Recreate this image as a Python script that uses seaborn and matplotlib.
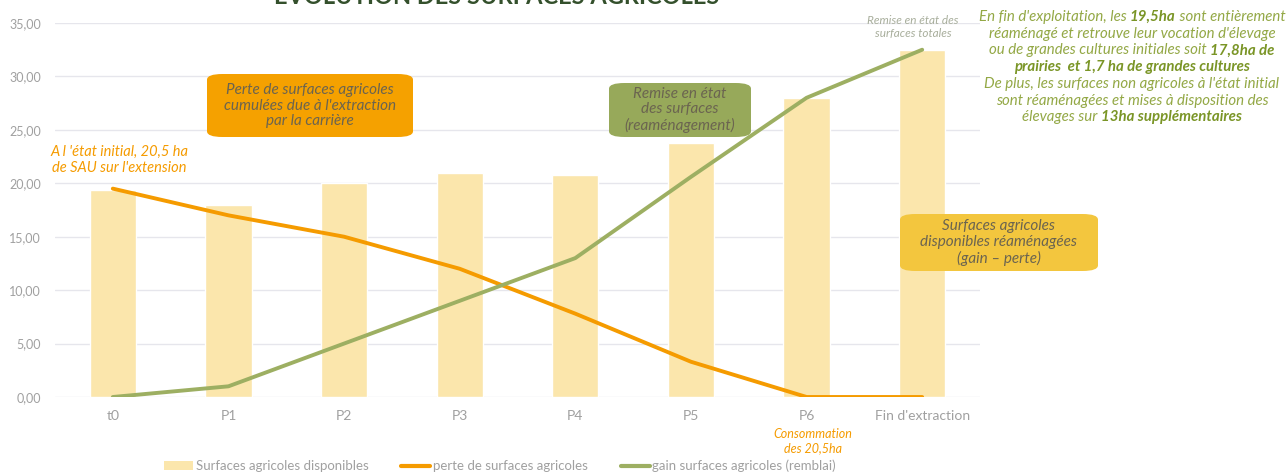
import numpy as np
import pandas as pd
import matplotlib
matplotlib.use("Agg")
import matplotlib.pyplot as plt
import seaborn as sns
from matplotlib.patches import Patch, FancyBboxPatch
from matplotlib.lines import Line2D

categories = ["t0", "P1", "P2", "P3", "P4", "P5", "P6", "Fin d'extraction"]
surfaces_dispo = [19.4, 18.0, 20.0, 21.0, 20.8, 23.8, 28.0, 32.5]
perte = [19.5, 17.0, 15.0, 12.0, 7.8, 3.3, 0.0, 0.0]
gain = [0.0, 1.0, 5.0, 9.0, 13.0, 20.6, 28.0, 32.5]
yticks = [0, 5, 10, 15, 20, 25, 30, 35]
ytick_labels = ["0,00", "5,00", "10,00", "15,00", "20,00", "25,00", "30,00", "35,00"]
series_names = ["Surfaces agricoles disponibles", "perte de surfaces agricoles",
                "gain surfaces agricoles (remblai)"]

sns.set_theme(style="white")
plt.rcParams['font.family'] = ['Lato', 'DejaVu Sans']

BAR = "#FBE6AC"
ORANGE = "#F59B00"
GREEN = "#9DAF62"
GRAY = "#A0A0A0"

fig = plt.figure(figsize=(12.87, 4.74), dpi=100)
ax = fig.add_axes([55/1287, 1-397/474, (980-55)/1287, (397-23)/474])

df = pd.DataFrame({"cat": categories, "val": surfaces_dispo})
sns.barplot(data=df, x="cat", y="val", color=BAR, saturation=1, width=0.4, ax=ax, zorder=2)
xs = np.arange(len(categories))
sns.lineplot(x=xs, y=perte, color=ORANGE, lw=2.8, ax=ax, zorder=3)
sns.lineplot(x=xs, y=gain, color=GREEN, lw=2.8, ax=ax, zorder=3)

ax.set_xlim(-0.5, len(categories) - 0.5)
ax.set_ylim(0, 35)
ax.set_yticks(yticks)
ax.set_yticklabels(ytick_labels)
ax.set_xticks(xs)
ax.set_xticklabels(categories)
ax.set_xlabel("")
ax.set_ylabel("")
for s in ax.spines.values():
    s.set_visible(False)
ax.grid(axis="y", color="#E6E6EC", lw=1, zorder=0)
ax.set_axisbelow(True)
ax.tick_params(axis="y", colors=GRAY, labelsize=9, length=0, pad=10)
ax.tick_params(axis="x", colors=GRAY, labelsize=10, length=0, pad=9)
for lab in ax.get_yticklabels():
    lab.set_horizontalalignment("right")

# Title (cut off at the top, as in the reference)
fig.text(497/1287, 1-4/474, "EVOLUTION DES SURFACES AGRICOLES", ha="center", va="baseline",
         fontsize=17, color="#34502C", fontweight="bold")

def px(x, y):
    return (x/1287, 1-y/474)

# Annotations
fig.text(*px(119, 160), "A l 'état initial, 20,5 ha\nde SAU sur l'extension", ha="center", va="center",
         color=ORANGE, fontsize=10.5, style="italic", linespacing=1.25)
fig.text(*px(813, 441), "Consommation\ndes 20,5ha", ha="center", va="center",
         color=ORANGE, fontsize=9, style="italic", linespacing=1.2)
fig.text(*px(913, 27), "Remise en état des\nsurfaces totales", ha="center", va="center",
         color="#A8AE9C", fontsize=8.5, style="italic", linespacing=1.25)

def box(x0, y0, x1, y1, color, text, fs=11):
    bx, by = x0/1287, 1-y1/474
    w, h = (x1-x0)/1287, (y1-y0)/474
    p = FancyBboxPatch((bx, by), w, h, boxstyle="round,pad=0,rounding_size=0.012",
                       transform=fig.transFigure, facecolor=color, edgecolor="none", zorder=5)
    fig.patches.append(p)
    fig.text(bx + w/2, by + h/2, text, ha="center", va="center", fontsize=fs,
             color="#6B6450", style="italic", linespacing=1.15, zorder=6)

box(207, 74, 413, 137, "#F5A100", "Perte de surfaces agricoles\ncumulées due à l'extraction\npar la carrière")
box(609, 83, 751, 137, "#97A95A", "Remise en état\ndes surfaces\n(reaménagement)")
box(900, 214, 1098, 271, "#F3C63E", "Surfaces agricoles\ndisponibles réaménagées\n(gain – perte)")

# Right text block with mixed bold
lines = [
    [("En fin d'exploitation, les ", False), ("19,5ha", True), (" sont entièrement", False)],
    [("réaménagé et retrouve leur vocation d'élevage", False)],
    [("ou de grandes cultures initiales soit ", False), ("17,8ha de", True)],
    [("prairies  et 1,7 ha de grandes cultures", True)],
    [("De plus, les surfaces non agricoles à l'état initial", False)],
    [("sont réaménagées et mises à disposition des", False)],
    [("élevages sur ", False), ("13ha supplémentaires", True)],
]
fig.canvas.draw()
renderer = fig.canvas.get_renderer()
cx = 1132
y = 17
for line in lines:
    texts = []
    for seg, bold in line:
        t = fig.text(0, 0, seg, fontsize=10.8, style="italic",
                     fontweight="bold" if bold else "normal",
                     color="#7A9526" if bold else "#93A845", ha="left", va="center")
        texts.append(t)
    widths = [t.get_window_extent(renderer).width for t in texts]
    total = sum(widths)
    xstart = cx - total/2
    for t, w in zip(texts, widths):
        t.set_position(px(xstart, y))
        xstart += w
    y += 16.7

# Legend
handles = [Patch(facecolor=BAR, edgecolor="none"),
           Line2D([0], [0], color=ORANGE, lw=3),
           Line2D([0], [0], color=GREEN, lw=3)]
leg = fig.legend(handles, series_names, loc="center", bbox_to_anchor=(500/1287, 1-466/474),
                 ncol=3, frameon=False, fontsize=9.5, handlelength=2.2, handletextpad=0.2,
                 columnspacing=2.5)
for t in leg.get_texts():
    t.set_color(GRAY)

fig.savefig("out.png", dpi=100)
